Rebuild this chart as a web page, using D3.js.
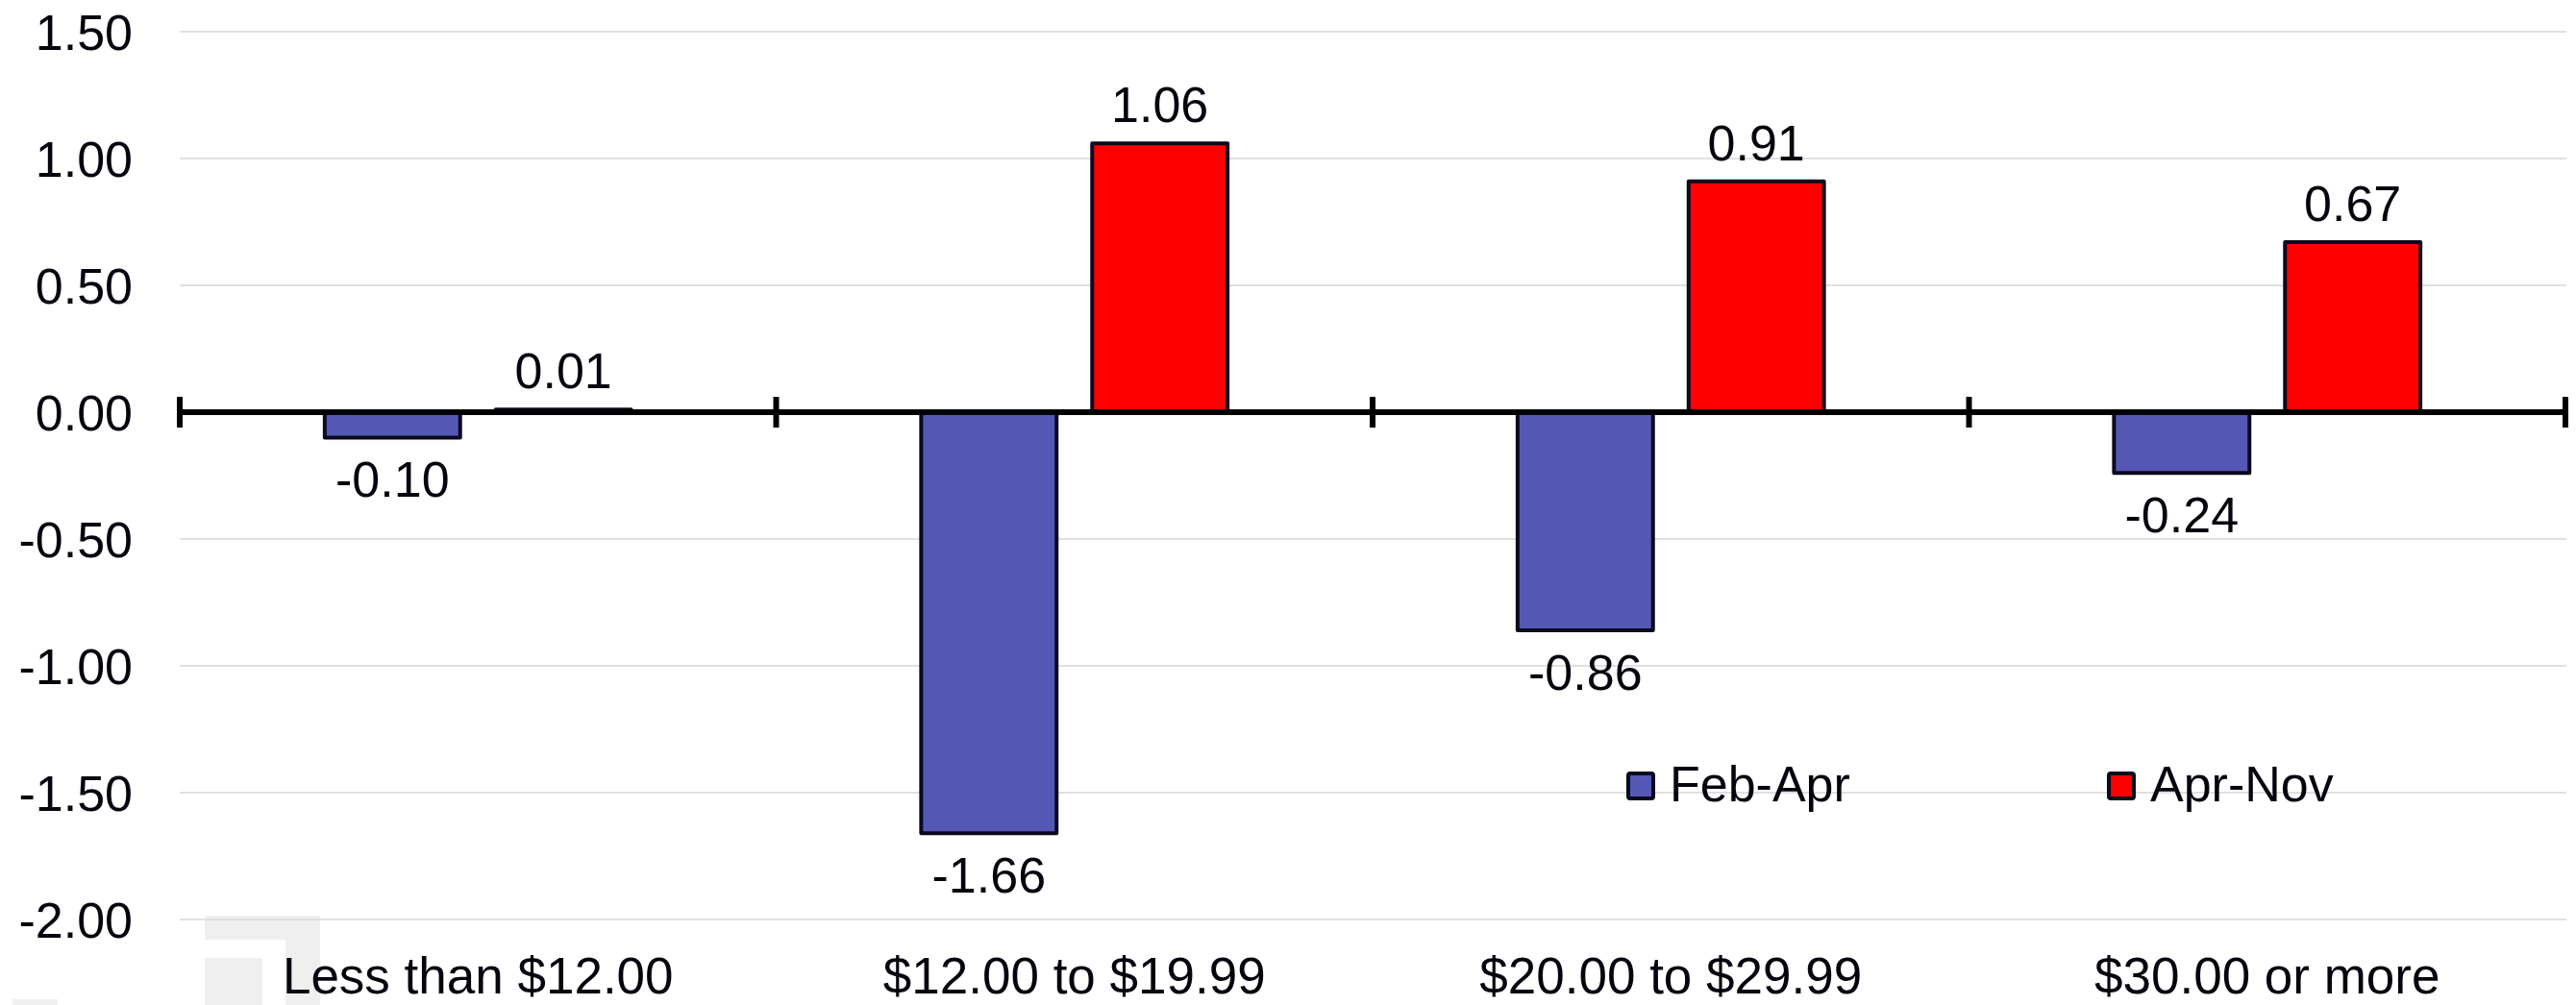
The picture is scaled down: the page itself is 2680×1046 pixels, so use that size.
<!DOCTYPE html>
<html>
<head>
<meta charset="utf-8">
<script src="https://cdn.jsdelivr.net/npm/d3@7"></script>
<style>
  html, body { margin: 0; padding: 0; background: #ffffff; }
  svg { display: block; }
  text { font-family: "Liberation Sans", Arial, Helvetica, sans-serif; fill: #05050f; }
</style>
</head>
<body>
<svg id="chart" width="2680" height="1046"></svg>
<script>
// Wage-bracket categories and the change for each period
const categories = ["Less than $12.00", "$12.00 to $19.99", "$20.00 to $29.99", "$30.00 or more"];
const seriesNames = ["Feb-Apr", "Apr-Nov"];
const febApr = [-0.10, -1.66, -0.86, -0.24];
const aprNov = [0.01, 1.06, 0.91, 0.67];
const yTicks = [1.50, 1.00, 0.50, 0.00, -0.50, -1.00, -1.50, -2.00];
const colors = { "Feb-Apr": "#5557b5", "Apr-Nov": "#ff0000" };

// two-decimal numbers with a plain hyphen for negatives
const fmt = d3.formatLocale({ decimal: ".", thousands: ",", grouping: [3], currency: ["$", ""], minus: "-" }).format(".2f");

const W = 2680, H = 1046;
const margin = { left: 187, right: 11, top: 33, bottom: 89 };
const svg = d3.select("#chart");

const x0 = d3.scaleBand()
  .domain(categories)
  .range([margin.left, W - margin.right])
  .paddingInner(0).paddingOuter(0);

const x1 = d3.scaleBand()
  .domain(seriesNames)
  .range([0, x0.bandwidth()])
  .paddingInner(0.208)
  .paddingOuter(0.848);

const y = d3.scaleLinear()
  .domain([-2, 1.5])
  .range([H - margin.bottom, margin.top]);

// faint logo mark in the lower-left corner
const logo = svg.append("g").attr("fill", "#efefef");
logo.append("rect").attr("x", 213).attr("y", 953).attr("width", 120).attr("height", 25);
logo.append("rect").attr("x", 297).attr("y", 953).attr("width", 36).attr("height", 93);
logo.append("rect").attr("x", 213).attr("y", 997).attr("width", 60).attr("height", 49);
logo.append("rect").attr("x", 13).attr("y", 1040).attr("width", 47).attr("height", 6);

// horizontal gridlines
svg.append("g")
  .selectAll("line")
  .data(yTicks.filter(d => d !== 0))
  .join("line")
  .attr("x1", margin.left)
  .attr("x2", W - margin.right + 1)
  .attr("y1", d => y(d))
  .attr("y2", d => y(d))
  .attr("stroke", "#e0e0e0")
  .attr("stroke-width", 2);

// y-axis labels
const yAxis = d3.axisLeft(y)
  .tickValues(yTicks)
  .tickFormat(fmt)
  .tickSize(0)
  .tickPadding(49);
const yg = svg.append("g")
  .attr("transform", `translate(${margin.left},0)`)
  .call(yAxis);
yg.select(".domain").remove();
yg.selectAll("text")
  .attr("font-size", 52)
  .attr("font-family", "\"Liberation Sans\", Arial, sans-serif")
  .attr("fill", "#05050f")
  .attr("dy", "0.36em");

// legend
const legendX = { "Feb-Apr": 1692, "Apr-Nov": 2192 };
const legend = svg.append("g");
seriesNames.forEach(s => {
  const g = legend.append("g").attr("transform", `translate(${legendX[s]},${y(-1.5) - 22})`);
  g.append("rect")
    .attr("x", 2).attr("y", 2)
    .attr("width", 26).attr("height", 26)
    .attr("rx", 2)
    .attr("fill", colors[s])
    .attr("stroke", "#0a0a1e")
    .attr("stroke-width", 4);
  g.append("text")
    .attr("x", 45)
    .attr("y", 31)
    .attr("font-size", 52)
    .text(s);
});

// bars
const rows = categories.map((c, i) => ({
  category: c,
  values: [
    { series: "Feb-Apr", value: febApr[i] },
    { series: "Apr-Nov", value: aprNov[i] }
  ]
}));

const groups = svg.append("g")
  .selectAll("g")
  .data(rows)
  .join("g")
  .attr("transform", d => `translate(${x0(d.category)},0)`);

groups.selectAll("rect")
  .data(d => d.values)
  .join("rect")
  .attr("x", d => x1(d.series))
  .attr("width", x1.bandwidth())
  .attr("y", d => y(Math.max(0, d.value)))
  .attr("height", d => Math.abs(y(d.value) - y(0)))
  .attr("fill", d => colors[d.series])
  .attr("stroke", "#0a0a1e")
  .attr("stroke-width", 4)
  .attr("stroke-linejoin", "round");

// value labels
groups.selectAll("text.val")
  .data(d => d.values)
  .join("text")
  .attr("class", "val")
  .attr("x", d => x1(d.series) + x1.bandwidth() / 2)
  .attr("y", d => d.value >= 0 ? y(d.value) - 22 : y(d.value) + 62)
  .attr("text-anchor", "middle")
  .attr("font-size", 52)
  .text(d => fmt(d.value));

// zero axis with category boundary ticks
const axisG = svg.append("g").attr("stroke", "#000").attr("stroke-width", 6);
axisG.append("line")
  .attr("x1", x0.range()[0])
  .attr("x2", x0.range()[1])
  .attr("y1", y(0))
  .attr("y2", y(0));
const boundaries = categories.map(c => x0(c)).concat([x0.range()[1]]);
axisG.selectAll("line.tick")
  .data(boundaries)
  .join("line")
  .attr("class", "tick")
  .attr("x1", d => d).attr("x2", d => d)
  .attr("y1", y(0) - 16)
  .attr("y2", y(0) + 16);

// category labels
svg.append("g")
  .selectAll("text")
  .data(categories)
  .join("text")
  .attr("x", d => x0(d) + x0.bandwidth() / 2)
  .attr("y", 1034)
  .attr("text-anchor", "middle")
  .attr("font-size", 53)
  .text(d => d);
</script>
</body>
</html>
